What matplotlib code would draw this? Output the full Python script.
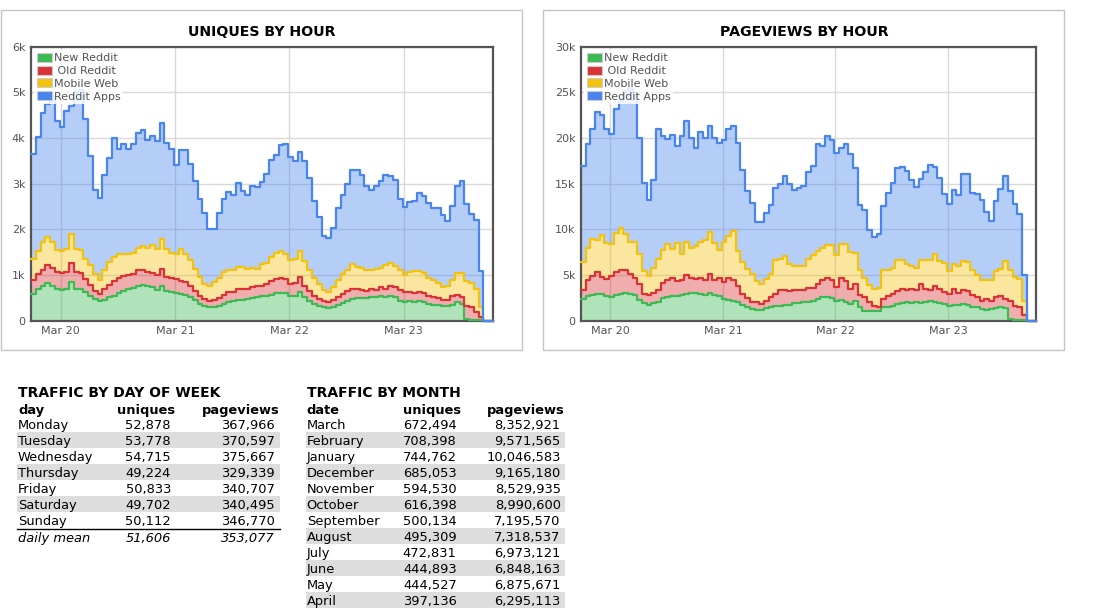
import numpy as np
import matplotlib
matplotlib.use("Agg")
import matplotlib.pyplot as plt
from matplotlib.patches import Rectangle, Patch

W, H = 1114, 610

# hours relative to Mar 20 00:00, one point per hour
start = -6.25
n_points = 98
x = start + np.arange(n_points)

day_ticks = [0, 24, 48, 72]
day_labels = ["Mar 20", "Mar 21", "Mar 22", "Mar 23"]

series_names = ["New Reddit", " Old Reddit", "Mobile Web", "Reddit Apps"]
series_colors = ["#3cba54", "#db3236", "#f4c20d", "#4885ed"]

# stacked tops (uniques per hour)
uniq_new_top = [590, 700, 750, 820, 770, 700, 680, 700, 850, 700, 700, 630, 550, 480, 430, 460,
                510, 550, 600, 660, 700, 720, 770, 790, 760, 740, 680, 770, 650, 630, 610, 590,
                570, 510, 460, 370, 330, 290, 290, 330, 370, 400, 430, 460, 460, 480, 490, 510,
                530, 540, 570, 600, 610, 600, 550, 530, 630, 510, 440, 370, 330, 310, 280, 290,
                350, 380, 440, 480, 500, 500, 500, 510, 510, 530, 510, 530, 510, 440, 420, 430,
                420, 430, 400, 370, 350, 350, 320, 320, 350, 400, 370, 30, 20, 20, 20, 0, 0, 0]
uniq_old_top = [900, 1030, 1120, 1210, 1150, 1070, 1040, 1070, 1270, 1070, 1040, 920, 790, 660, 590, 700,
                790, 880, 940, 970, 1010, 1030, 1100, 1100, 1070, 1050, 1010, 1130, 960, 940, 920, 880,
                850, 770, 650, 550, 480, 440, 460, 500, 570, 630, 630, 700, 700, 700, 740, 750,
                770, 810, 870, 920, 940, 920, 810, 820, 960, 770, 650, 550, 480, 440, 400, 460,
                520, 590, 660, 700, 700, 680, 660, 700, 680, 740, 700, 750, 740, 680, 630, 630,
                610, 630, 600, 550, 510, 500, 460, 460, 530, 570, 510, 330, 290, 180, 90, 0, 0, 0]
uniq_mobile_top = [1350, 1530, 1730, 1840, 1730, 1540, 1530, 1580, 1900, 1560, 1540, 1360, 1210, 1030, 900, 1120,
                   1290, 1400, 1460, 1470, 1470, 1490, 1600, 1630, 1600, 1650, 1580, 1780, 1580, 1490, 1460, 1560,
                   1470, 1320, 1140, 960, 810, 750, 850, 940, 1070, 1100, 1100, 1180, 1180, 1140, 1160, 1140,
                   1250, 1260, 1400, 1490, 1520, 1470, 1340, 1360, 1520, 1310, 1100, 940, 810, 680, 630, 740,
                   900, 1030, 1120, 1240, 1180, 1150, 1100, 1100, 1140, 1160, 1210, 1260, 1190, 1100, 990, 1070,
                   1080, 1090, 1050, 940, 900, 830, 740, 770, 900, 1050, 1050, 880, 820, 700, 290, 0, 0, 0]
uniq_apps_top = [3660, 4030, 4550, 4750, 4900, 4380, 4250, 4600, 4700, 5000, 5050, 4410, 3600, 2870, 2680, 3200,
                 3570, 3990, 3760, 3860, 3750, 3860, 4100, 4180, 3950, 4040, 3930, 4320, 3900, 3750, 3410, 3740,
                 3740, 3440, 3070, 2660, 2350, 2000, 2000, 2350, 2660, 2810, 2760, 3010, 2850, 2760, 2960, 2930,
                 3030, 3210, 3510, 3620, 3840, 3880, 3590, 3490, 3690, 3490, 3130, 2630, 2280, 1850, 1820, 2020,
                 2460, 2760, 3000, 3290, 3290, 3180, 2940, 2870, 2960, 3070, 3200, 3160, 3090, 2660, 2490, 2600,
                 2620, 2790, 2740, 2570, 2460, 2460, 2320, 2180, 2520, 2960, 3070, 2560, 2340, 2210, 1080, 0, 0, 0]

# stacked tops (pageviews per hour)
pv_new_top = [2390, 2650, 2760, 2940, 2870, 2650, 2570, 2760, 2940, 3010, 2940, 2760, 2280, 1910, 1760, 1910,
              2020, 2500, 2570, 2650, 2650, 2760, 2870, 3010, 3010, 2870, 2760, 3010, 2760, 2650, 2390, 2280,
              2200, 2020, 1760, 1540, 1290, 1180, 1180, 1400, 1540, 1650, 1650, 1760, 1760, 1910, 1910, 2020,
              2020, 2130, 2390, 2570, 2570, 2500, 2130, 2280, 2020, 1840, 2130, 1470, 1100, 1030, 1030, 1030,
              1470, 1470, 1650, 1840, 1910, 2020, 1910, 2020, 1910, 2020, 2130, 2020, 1910, 1840, 1650, 1760,
              1760, 1840, 1760, 1540, 1470, 1290, 1180, 1290, 1400, 1470, 1400, 180, 70, 70, 70, 0, 0, 0]
pv_old_top = [3380, 4410, 4850, 5330, 4780, 4600, 4850, 5330, 5510, 5510, 5150, 4700, 3970, 2940, 2760, 3010,
              3380, 4120, 4410, 4700, 4340, 4410, 4960, 4700, 4600, 4700, 4410, 5150, 4410, 4700, 4230, 4700,
              4410, 3750, 2940, 2500, 2020, 2020, 1840, 2200, 2570, 2870, 3380, 3380, 3240, 3310, 3380, 3380,
              3600, 3600, 4040, 4490, 4700, 4410, 3680, 4700, 4340, 3490, 4040, 2760, 2570, 2020, 1650, 1540,
              2390, 2650, 2940, 3240, 3490, 3380, 3490, 3310, 3970, 3490, 3380, 3750, 3490, 3130, 2940, 3490,
              3010, 3380, 3240, 2760, 2570, 2130, 2390, 2130, 2570, 2650, 2390, 2130, 1650, 1470, 660, 0, 0, 0]
pv_mobile_top = [6430, 8000, 8900, 8800, 9400, 8500, 8400, 9560, 10100, 9490, 8640, 8640, 7350, 5440, 4850, 5770,
                 6800, 7720, 8380, 7900, 8530, 7350, 8640, 8000, 8160, 8640, 8820, 9740, 8460, 7720, 8640, 9260,
                 9850, 7650, 6430, 5700, 5150, 4340, 4040, 4600, 5150, 6620, 6800, 7060, 6180, 5960, 6030, 6030,
                 6760, 7170, 7650, 8010, 8270, 8270, 7170, 8380, 8380, 7540, 7430, 5510, 4700, 3860, 3490, 3600,
                 5510, 5510, 5770, 6620, 6620, 6180, 5960, 5770, 6690, 6620, 6620, 7350, 6540, 6320, 5440, 6250,
                 5960, 6540, 6430, 5510, 4960, 4490, 4490, 4410, 5440, 5700, 6540, 5510, 4780, 4600, 2200, 0, 0, 0]
pv_apps_top = [16900, 19400, 20960, 22800, 22500, 21000, 20400, 23200, 24000, 25200, 25500, 24800, 20000, 15100, 13200, 15400,
               21000, 20200, 19900, 20300, 19100, 20200, 21900, 20000, 18900, 20700, 20000, 21300, 20000, 19500, 19800, 21000,
               21300, 19500, 16500, 14150, 12870, 10850, 10850, 11760, 12680, 14520, 15000, 15880, 15000, 14340, 14520, 14700,
               16250, 16900, 19300, 19100, 20200, 19800, 18400, 18900, 19300, 18300, 16700, 12700, 12100, 9930, 9120, 9490,
               12570, 13970, 15070, 16700, 16800, 16400, 15400, 14600, 15500, 16250, 17000, 16800, 15600, 13900, 12800, 14300,
               13800, 16070, 16070, 13970, 13900, 13200, 11950, 10900, 13100, 14400, 15800, 14150, 12800, 11700, 4960, 0, 0, 0]

# tables
week_days = ["Monday", "Tuesday", "Wednesday", "Thursday", "Friday", "Saturday", "Sunday"]
week_uniques = ["52,878", "53,778", "54,715", "49,224", "50,833", "49,702", "50,112"]
week_pageviews = ["367,966", "370,597", "375,667", "329,339", "340,707", "340,495", "346,770"]
week_mean = ["51,606", "353,077"]

months = ["March", "February", "January", "December", "November", "October",
          "September", "August", "July", "June", "May", "April"]
month_uniques = ["672,494", "708,398", "744,762", "685,053", "594,530", "616,398",
                 "500,134", "495,309", "472,831", "444,893", "444,527", "397,136"]
month_pageviews = ["8,352,921", "9,571,565", "10,046,583", "9,165,180", "8,529,935", "8,990,600",
                   "7,195,570", "7,318,537", "6,973,121", "6,848,163", "6,875,671", "6,295,113"]

plt.rcParams['font.family'] = ['DejaVu Sans']

fig = plt.figure(figsize=(W / 100, H / 100), dpi=100)
fig.patch.set_facecolor("white")


def px_text(xp, yp, s, **kw):
    fig.text(xp / W, 1 - yp / H, s, **kw)


def px_rect(x0, y0, x1, y1, **kw):
    fig.add_artist(Rectangle((x0 / W, 1 - y1 / H), (x1 - x0) / W, (y1 - y0) / H,
                             transform=fig.transFigure, **kw))


def draw_chart(ax, tops, ymax, ystep, title, cx):
    lower = np.zeros(n_points)
    for top, c in zip(tops, series_colors):
        top = np.array(top, dtype=float)
        ax.fill_between(x, lower, top, step='post', color=c, alpha=0.4, lw=0, zorder=1)
        ax.plot(x, top, drawstyle='steps-post', color=c, lw=1.6, zorder=3, clip_on=False)
        lower = top
    ax.set_xlim(x[0], x[-1])
    ax.set_ylim(0, ymax)
    ax.set_xticks(day_ticks)
    ax.set_xticklabels(day_labels)
    yt = np.arange(0, ymax + 1, ystep)
    ax.set_yticks(yt)
    ax.set_yticklabels(["0"] + ["%dk" % (v // 1000) for v in yt[1:]])
    ax.tick_params(length=0, labelsize=8, labelcolor="#545454", pad=4)
    ax.grid(True, color="#d9d9d9", lw=1)
    ax.set_axisbelow(True)
    for sp in ax.spines.values():
        sp.set_color("#545454")
        sp.set_linewidth(1.6)
        sp.set_zorder(2.5)
    handles = [Patch(facecolor=c, edgecolor="#cccccc", lw=0.8) for c in series_colors]
    leg = ax.legend(handles, series_names, loc="upper left", fontsize=8, labelcolor="#545454",
                    handlelength=1.35, handleheight=0.85, handletextpad=0.15, labelspacing=0.23,
                    borderpad=0.25, borderaxespad=0.3, frameon=True, fancybox=False,
                    facecolor="white", framealpha=0.85, edgecolor="none")
    leg.set_zorder(5)
    px_text(cx, 32 + 4.3, title, ha="center", va="baseline", fontsize=10.2,
            fontweight="bold", color="black")


# panel frames
px_rect(1, 10, 522, 350, fill=False, edgecolor="#c4c4c4", lw=1)
px_rect(543, 10, 1064, 350, fill=False, edgecolor="#c4c4c4", lw=1)

ax1 = fig.add_axes([31 / W, 1 - 320.7 / H, 462 / W, 274 / H])
draw_chart(ax1, [uniq_new_top, uniq_old_top, uniq_mobile_top, uniq_apps_top],
           6000, 1000, "UNIQUES BY HOUR", 262)

ax2 = fig.add_axes([581 / W, 1 - 320.7 / H, 455 / W, 274 / H])
draw_chart(ax2, [pv_new_top, pv_old_top, pv_mobile_top, pv_apps_top],
           30000, 5000, "PAGEVIEWS BY HOUR", 804)

# tables
fs = 9.36
row0, row_h, base = 424.3, 16, 4.6

# traffic by day of week
px_text(18, 392.7 + base, "TRAFFIC BY DAY OF WEEK", fontsize=10, fontweight="bold", va="baseline")
px_text(18, 409 + base, "day", fontsize=fs, fontweight="bold", va="baseline")
px_text(175, 409 + base, "uniques", fontsize=fs, fontweight="bold", va="baseline", ha="right")
px_text(279.5, 409 + base, "pageviews", fontsize=fs, fontweight="bold", va="baseline", ha="right")
for i, (d, u, p) in enumerate(zip(week_days, week_uniques, week_pageviews)):
    y = row0 + i * row_h
    if i % 2 == 1:
        px_rect(17, y - 8, 279.5, y + 8, facecolor="#dddddd", edgecolor="none", zorder=0)
    px_text(18, y + base, d, fontsize=fs, va="baseline")
    px_text(171, y + base, u, fontsize=fs, va="baseline", ha="right")
    px_text(275, y + base, p, fontsize=fs, va="baseline", ha="right")
fig.add_artist(plt.Line2D([17 / W, 279.5 / W], [1 - 528.5 / H, 1 - 528.5 / H],
                          color="black", lw=1, transform=fig.transFigure))
px_text(18, 537.3 + base, "daily mean", fontsize=fs, va="baseline", style="italic")
px_text(171, 537.3 + base, week_mean[0], fontsize=fs, va="baseline", ha="right", style="italic")
px_text(275, 537.3 + base, week_mean[1], fontsize=fs, va="baseline", ha="right", style="italic")

# traffic by month
px_text(306.7, 392.7 + base, "TRAFFIC BY MONTH", fontsize=10, fontweight="bold", va="baseline")
px_text(306.7, 409 + base, "date", fontsize=fs, fontweight="bold", va="baseline")
px_text(461, 409 + base, "uniques", fontsize=fs, fontweight="bold", va="baseline", ha="right")
px_text(565, 409 + base, "pageviews", fontsize=fs, fontweight="bold", va="baseline", ha="right")
for i, (m, u, p) in enumerate(zip(months, month_uniques, month_pageviews)):
    y = row0 + i * row_h
    if i % 2 == 1:
        px_rect(306, y - 8, 565, y + 8, facecolor="#dddddd", edgecolor="none", zorder=0)
    px_text(306.7, y + base, m, fontsize=fs, va="baseline")
    px_text(456.7, y + base, u, fontsize=fs, va="baseline", ha="right")
    px_text(560.7, y + base, p, fontsize=fs, va="baseline", ha="right")

fig.savefig("out.png", dpi=100, facecolor="white")
